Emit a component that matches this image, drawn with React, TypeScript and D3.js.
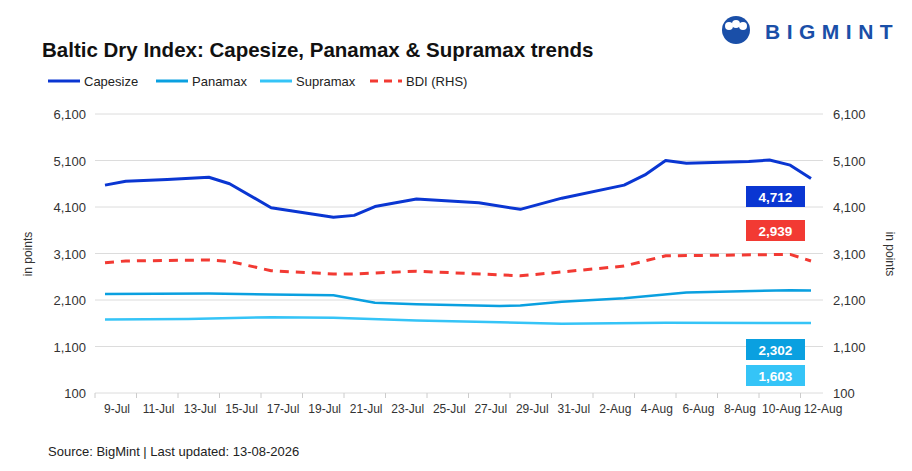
import React from "react";
import * as d3 from "d3";

const xLabels = ["9-Jul","11-Jul","13-Jul","15-Jul","17-Jul","19-Jul","21-Jul","23-Jul","25-Jul","27-Jul","29-Jul","31-Jul","2-Aug","4-Aug","6-Aug","8-Aug","10-Aug","12-Aug"];
const yTicks = [100,1100,2100,3100,4100,5100,6100];
const capeDays = [0,1,3,5,6,8,11,12,13,15,18,20,22,25,26,27,28,31,32,33,34];
const capeVals = [4570,4655,4690,4740,4600,4085,3880,3920,4110,4270,4190,4050,4290,4570,4790,5100,5040,5080,5110,5000,4712];
const bdiDays = [0,1,5,6,8,11,12,15,19,20,25,27,33,34];
const bdiVals = [2900,2940,2960,2930,2730,2660,2660,2720,2640,2620,2830,3050,3080,2939];
const panDays = [0,5,8,11,13,15,19,20,22,25,28,33,34];
const panVals = [2230,2240,2220,2200,2040,2010,1970,1980,2060,2140,2260,2310,2302];
const supDays = [0,4,8,11,15,19,22,27,34];
const supVals = [1680,1690,1730,1720,1660,1620,1590,1610,1603];

const C = { cape: "#0a36d2", pan: "#0aa0e0", sup: "#35c4f7", bdi: "#f23a33" };

export default function App() {
  const x = d3.scaleLinear().domain([0, 34]).range([105, 811]);
  const y = d3.scaleLinear().domain([100, 6100]).range([393, 114]);
  const line = (days: number[], vals: number[]) =>
    d3.line<number>().x((_, i) => x(days[i])).y((v) => y(v))(vals) || "";
  const font = "Liberation Sans, Arial, sans-serif";
  const boxes = [
    { v: 4712, c: C.cape, y: 186 },
    { v: 2939, c: C.bdi, y: 220 },
    { v: 2302, c: C.pan, y: 339 },
    { v: 1603, c: C.sup, y: 365 },
  ];
  const legend = [
    { n: "Capesize", c: C.cape, x: 48, dash: "" },
    { n: "Panamax", c: C.pan, x: 156, dash: "" },
    { n: "Supramax", c: C.sup, x: 260, dash: "" },
    { n: "BDI (RHS)", c: C.bdi, x: 370, dash: "8 6" },
  ];
  return (
    <svg width={896} height={463} style={{ display: "block", fontFamily: font }}>
      <rect width={896} height={463} fill="#fff" />
      <g transform="translate(-8,-8)">
        <text x={42} y={57} fontSize={20.5} fontWeight="bold" fill="#111">Baltic Dry Index: Capesize, Panamax &amp; Supramax trends</text>
        <g transform="translate(720,16)">
          <circle cx={16} cy={14} r={14} fill="#1a4fa8" />
          <circle cx={9} cy={10} r={4} fill="#fff" />
          <circle cx={16} cy={8} r={4} fill="#fff" />
          <circle cx={23} cy={10} r={4} fill="#fff" />
          <text x={45} y={23} fontSize={21} fontWeight="bold" fill="#1a4fa8" letterSpacing={6.5}>BIGMINT</text>
        </g>
        {legend.map((l) => (
          <g key={l.n}>
            <line x1={l.x} x2={l.x + 32} y1={81} y2={81} stroke={l.c} strokeWidth={3} strokeDasharray={l.dash} />
            <text x={l.x + 36} y={86} fontSize={13} fill="#222">{l.n}</text>
          </g>
        ))}
        {yTicks.map((t) => (
          <g key={t}>
            <line x1={95} x2={823} y1={y(t)} y2={y(t)} stroke="#dcdcdc" strokeWidth={1} />
            <text x={86} y={y(t) + 5} fontSize={13} textAnchor="end" fill="#333">{d3.format(",")(t)}</text>
            <text x={833} y={y(t) + 5} fontSize={13} fill="#333">{d3.format(",")(t)}</text>
          </g>
        ))}
        {xLabels.map((l, i) => (
          <g key={l}>
            <line x1={95 + i * 41.5} x2={95 + i * 41.5} y1={393} y2={398} stroke="#ccc" />
            <text x={x(i * 2) + 12} y={413} fontSize={12} textAnchor="middle" fill="#333">{l}</text>
          </g>
        ))}
        <text transform="translate(32,254) rotate(-90)" fontSize={12} textAnchor="middle" fill="#333">in points</text>
        <text transform="translate(886,254) rotate(90)" fontSize={12} textAnchor="middle" fill="#333">in points</text>
        <path d={line(supDays, supVals)} fill="none" stroke={C.sup} strokeWidth={2.5} strokeLinejoin="round" />
        <path d={line(panDays, panVals)} fill="none" stroke={C.pan} strokeWidth={2.5} strokeLinejoin="round" />
        <path d={line(bdiDays, bdiVals)} fill="none" stroke={C.bdi} strokeWidth={3} strokeDasharray="9 7" />
        <path d={line(capeDays, capeVals)} fill="none" stroke={C.cape} strokeWidth={3} strokeLinejoin="round" />
        {boxes.map((b) => (
          <g key={b.v}>
            <rect x={746} y={b.y} width={59} height={21} fill={b.c} />
            <text x={775.5} y={b.y + 15.5} fontSize={13.5} fontWeight="bold" textAnchor="middle" fill="#fff">{d3.format(",")(b.v)}</text>
          </g>
        ))}
        <text x={48} y={456} fontSize={13} fill="#222">Source: BigMint | Last updated: 13-08-2026</text>
      </g>
    </svg>
  );
}
